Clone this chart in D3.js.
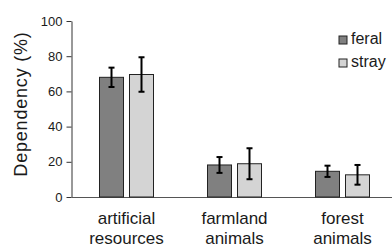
<!DOCTYPE html>
<html>
<head>
<meta charset="utf-8">
<script src="https://cdn.jsdelivr.net/npm/d3@7"></script>
<style>
  body { margin: 0; background: #fff; }
  text { font-family: "Liberation Sans", Arial, sans-serif; fill: #1a1a1a; }
</style>
</head>
<body>
<div id="chart"></div>
<script>
// data
let categories = ["artificial resources", "farmland animals", "forest animals"]
let series = ["feral", "stray"]
let feralValues = [68, 18.2, 14.6]
let feralErrors = [5.5, 4.5, 3.2]
let strayValues = [69.6, 18.9, 12.6]
let strayErrors = [9.8, 8.8, 5.6]
let yTicks = [0, 20, 40, 60, 80, 100]

let colors = { feral: "#808080", stray: "#d4d4d4" }

let rows = []
categories.forEach(function (c, i) {
    rows.push({ cat: c, s: "feral", v: feralValues[i], e: feralErrors[i] })
    rows.push({ cat: c, s: "stray", v: strayValues[i], e: strayErrors[i] })
})

let width = 392, height = 248

let svg = d3.select("#chart")
    .append("svg")
    .attr("width", width)
    .attr("height", height)

let x = d3.scaleBand()
    .domain(categories)
    .range([72.5, 396.5])

let xs = d3.scaleBand()
    .domain(series)
    .range([27, 81])
    .paddingInner(0.2)

let y = d3.scaleLinear()
    .domain([0, 100])
    .range([197, 21])

// y axis
let yAxis = svg.append("g")
    .attr("transform", "translate(71.5,0)")
    .call(d3.axisLeft(y).tickValues(yTicks).tickSize(5).tickPadding(4).tickSizeOuter(0))
yAxis.select(".domain").attr("stroke", "#333")
yAxis.selectAll(".tick line").attr("stroke", "#333")
yAxis.selectAll(".tick text")
    .style("font-size", "13px")
    .attr("fill", "#1a1a1a")

// baseline
svg.append("line")
    .attr("x1", 71.5)
    .attr("x2", width)
    .attr("y1", y(0) + 0.5)
    .attr("y2", y(0) + 0.5)
    .attr("stroke", "#555")

// bars
svg.append("g")
    .selectAll("rect")
    .data(rows)
    .enter()
    .append("rect")
    .attr("x", function (d) { return x(d.cat) + xs(d.s) })
    .attr("y", function (d) { return y(d.v) })
    .attr("width", xs.bandwidth())
    .attr("height", function (d) { return y(0) - y(d.v) })
    .attr("fill", function (d) { return colors[d.s] })
    .attr("stroke", "#222")
    .attr("stroke-width", 1)

// error bars
let err = svg.append("g")
    .selectAll("g")
    .data(rows)
    .enter()
    .append("g")
    .attr("stroke", "#000")
    .attr("stroke-width", 2)

err.append("line")
    .attr("x1", function (d) { return x(d.cat) + xs(d.s) + xs.bandwidth() / 2 })
    .attr("x2", function (d) { return x(d.cat) + xs(d.s) + xs.bandwidth() / 2 })
    .attr("y1", function (d) { return y(d.v + d.e) })
    .attr("y2", function (d) { return y(d.v - d.e) })
err.selectAll(".cap")
    .data(function (d) { return [d.v + d.e, d.v - d.e].map(function (v) { return { d: d, v: v } }) })
    .enter()
    .append("line")
    .attr("class", "cap")
    .attr("x1", function (c) { return x(c.d.cat) + xs(c.d.s) + xs.bandwidth() / 2 - 3 })
    .attr("x2", function (c) { return x(c.d.cat) + xs(c.d.s) + xs.bandwidth() / 2 + 3 })
    .attr("y1", function (c) { return y(c.v) })
    .attr("y2", function (c) { return y(c.v) })

// category labels
let labels = svg.append("g")
    .selectAll("text")
    .data(categories)
    .enter()
    .append("text")
    .attr("text-anchor", "middle")
    .style("font-size", "17px")
    .attr("transform", function (d) { return "translate(" + (x(d) + x.bandwidth() / 2) + ",0)" })

labels.selectAll("tspan")
    .data(function (d) { return d.split(" ") })
    .enter()
    .append("tspan")
    .attr("x", 0)
    .attr("y", function (d, i) { return 224 + i * 19.5 })
    .text(function (d) { return d })

// y axis title
svg.append("text")
    .attr("transform", "translate(27,104) rotate(-90)")
    .attr("text-anchor", "middle")
    .style("font-size", "18px")
    .style("letter-spacing", "0.8px")
    .text("Dependency (%)")

// legend
let legend = svg.append("g")
    .selectAll("g")
    .data(series)
    .enter()
    .append("g")
    .attr("transform", function (d, i) { return "translate(339," + (36 + i * 23) + ")" })

legend.append("rect")
    .attr("width", 8)
    .attr("height", 8)
    .attr("fill", function (d) { return colors[d] })
    .attr("stroke", "#222")

legend.append("text")
    .attr("x", 12)
    .attr("y", 8)
    .style("font-size", "16px")
    .text(function (d) { return d })
</script>
</body>
</html>
